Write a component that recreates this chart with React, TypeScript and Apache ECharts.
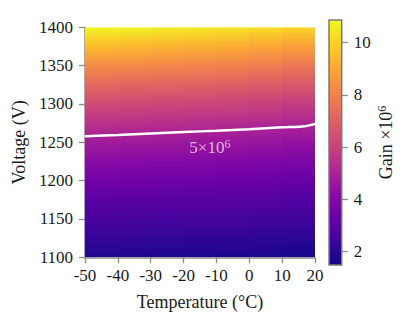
import React, { useEffect, useRef } from "react";
import * as echarts from "echarts";

// Temperature grid (°C) and voltage grid (V) of the gain map
const TEMPS = [-50, -40, -30, -20, -10, 0, 10, 20];
const VOLTS = [1100, 1125, 1150, 1175, 1200, 1225, 1250, 1275, 1300, 1325, 1350, 1375, 1400];
// Gain (×10^6), one row per voltage, one column per temperature
const GAIN_1100 = [1.84, 1.82, 1.8, 1.78, 1.76, 1.73, 1.69, 1.65];
const GAIN_1125 = [2.22, 2.2, 2.17, 2.15, 2.13, 2.1, 2.06, 2.01];
const GAIN_1150 = [2.62, 2.61, 2.58, 2.55, 2.53, 2.5, 2.45, 2.41];
const GAIN_1175 = [3.06, 3.04, 3.01, 2.97, 2.96, 2.92, 2.87, 2.81];
const GAIN_1200 = [3.56, 3.54, 3.5, 3.46, 3.44, 3.39, 3.33, 3.27];
const GAIN_1225 = [4.13, 4.11, 4.06, 4.01, 3.99, 3.93, 3.87, 3.79];
const GAIN_1250 = [4.78, 4.75, 4.7, 4.65, 4.62, 4.55, 4.48, 4.39];
const GAIN_1275 = [5.51, 5.48, 5.42, 5.35, 5.32, 5.25, 5.16, 5.06];
const GAIN_1300 = [6.33, 6.29, 6.22, 6.15, 6.12, 6.03, 5.93, 5.81];
const GAIN_1325 = [7.26, 7.22, 7.14, 7.06, 7.02, 6.92, 6.8, 6.67];
const GAIN_1350 = [8.31, 8.26, 8.17, 8.08, 8.03, 7.92, 7.78, 7.63];
const GAIN_1375 = [9.49, 9.44, 9.33, 9.22, 9.17, 9.04, 8.89, 8.71];
const GAIN_1400 = [10.85, 10.79, 10.67, 10.55, 10.49, 10.34, 10.16, 9.96];
const GAIN = [
  GAIN_1100, GAIN_1125, GAIN_1150, GAIN_1175, GAIN_1200, GAIN_1225, GAIN_1250,
  GAIN_1275, GAIN_1300, GAIN_1325, GAIN_1350, GAIN_1375, GAIN_1400,
];
// 5×10^6 contour
const CONTOUR_T = [-50, -40, -30, -20, -10, 0, 10, 17, 20];
const CONTOUR_V = [1258, 1259.5, 1261.5, 1263.5, 1265, 1267, 1269.5, 1271, 1274];
const CONTOUR_LABEL_T = -12;
const CONTOUR_LABEL_V = 1243;
// Colour bar
const COLOR_RANGE = [1.49, 10.87];
const COLORBAR_TICKS = [2, 4, 6, 8, 10];
const X_RANGE = [-50, 20];
const Y_RANGE = [1100, 1400];

const PLASMA = [
  "#0d0887", "#41049d", "#6a00a8", "#8f0da4", "#b12a90", "#cc4778",
  "#e16462", "#f2844b", "#fca636", "#fcce25", "#f0f921",
];
const hex = (h: string) => [1, 3, 5].map((k) => parseInt(h.slice(k, k + 2), 16));
const PLASMA_RGB = PLASMA.map(hex);
function plasma(t: number): string {
  const c = Math.max(0, Math.min(1, t)) * (PLASMA_RGB.length - 1);
  const i = Math.min(PLASMA_RGB.length - 2, Math.floor(c));
  const f = c - i;
  const a = PLASMA_RGB[i], b = PLASMA_RGB[i + 1];
  const m = a.map((v, k) => Math.round(v + (b[k] - v) * f));
  return `rgb(${m[0]},${m[1]},${m[2]})`;
}
const norm = (g: number) => (g - COLOR_RANGE[0]) / (COLOR_RANGE[1] - COLOR_RANGE[0]);

const AXIS_GRAY = "#8c8c8c";
const TEXT = "#1a1a1a";
const FONT = "Liberation Serif";
const LABEL_COLOR = "rgba(255,238,252,0.9)";

export default function App() {
  const ref = useRef<HTMLDivElement>(null);
  useEffect(() => {
    if (!ref.current) return;
    const chart = echarts.init(ref.current, undefined, { renderer: "svg" });
    const columns = TEMPS.slice(0, -1).map((t, i) => [t, TEMPS[i + 1], i]);
    const contour = CONTOUR_T.map((t, i) => [t, CONTOUR_V[i]]);
    const vSpan = Y_RANGE[1] - Y_RANGE[0];

    chart.setOption({
      animation: false,
      textStyle: { fontFamily: FONT, color: TEXT },
      grid: [
        { left: 85, top: 27.3, width: 230, height: 230 },
        { left: 329, top: 20, width: 12.7, height: 245 },
      ],
      xAxis: [
        {
          gridIndex: 0,
          type: "value",
          min: X_RANGE[0],
          max: X_RANGE[1],
          interval: 10,
          name: "Temperature (°C)",
          nameLocation: "middle",
          nameGap: 36,
          nameTextStyle: { fontSize: 18, color: TEXT, fontFamily: FONT },
          axisLine: { show: true, onZero: false, lineStyle: { color: AXIS_GRAY, width: 1.5 } },
          axisTick: { show: true, inside: false, length: 6, lineStyle: { color: AXIS_GRAY, width: 1.3 } },
          axisLabel: { fontSize: 17, color: TEXT, margin: 10, fontFamily: FONT, formatter: (v: number) => String(v) },
          splitLine: { show: false },
        },
        {
          gridIndex: 1,
          type: "value",
          min: 0,
          max: 1,
          show: false,
          axisLine: { onZero: false },
        },
      ],
      yAxis: [
        {
          gridIndex: 0,
          type: "value",
          min: Y_RANGE[0],
          max: Y_RANGE[1],
          interval: 50,
          name: "Voltage (V)",
          nameLocation: "middle",
          nameGap: 53,
          nameTextStyle: { fontSize: 18, color: TEXT, fontFamily: FONT },
          axisLine: { show: true, onZero: false, lineStyle: { color: AXIS_GRAY, width: 1.5 } },
          axisTick: { show: true, inside: false, length: 6, lineStyle: { color: AXIS_GRAY, width: 1.3 } },
          axisLabel: { fontSize: 17, color: TEXT, margin: 12, fontFamily: FONT, formatter: (v: number) => String(v) },
          splitLine: { show: false },
        },
        {
          gridIndex: 1,
          type: "value",
          position: "right",
          min: COLOR_RANGE[0],
          max: COLOR_RANGE[1],
          name: "Gain ×10{sup|6}",
          nameLocation: "middle",
          nameGap: 34,
          nameTextStyle: {
            fontSize: 18,
            color: TEXT,
            fontFamily: FONT,
            rich: { sup: { fontSize: 12, fontFamily: FONT, color: TEXT, padding: [0, 0, 8, 0] } },
          },
          axisLine: { show: false, onZero: false },
          axisTick: {
            show: true,
            inside: false,
            length: 6,
            customValues: COLORBAR_TICKS,
            lineStyle: { color: AXIS_GRAY, width: 1.3 },
          },
          axisLabel: {
            fontSize: 17,
            color: TEXT,
            margin: 12,
            fontFamily: FONT,
            customValues: COLORBAR_TICKS,
          },
          splitLine: { show: false },
        },
      ],
      series: [
        {
          type: "custom",
          coordinateSystem: "cartesian2d",
          xAxisIndex: 0,
          yAxisIndex: 0,
          z: 1,
          clip: true,
          silent: true,
          data: columns,
          renderItem: (params: any, api: any) => {
            const tL = api.value(0);
            const tR = api.value(1);
            const ci = api.value(2);
            const p0 = api.coord([tL, Y_RANGE[1]]);
            const p1 = api.coord([tR, Y_RANGE[0]]);
            const last = ci === TEMPS.length - 2;
            const stops = VOLTS.map((v, r) => ({
              offset: (Y_RANGE[1] - v) / vSpan,
              color: plasma(norm((GAIN[r][ci] + GAIN[r][ci + 1]) / 2)),
            })).reverse();
            return {
              type: "rect",
              shape: { x: p0[0], y: p0[1], width: p1[0] - p0[0] + (last ? 0 : 1), height: p1[1] - p0[1] },
              style: { fill: new echarts.graphic.LinearGradient(0, 0, 0, 1, stops) },
            };
          },
        },
        {
          type: "line",
          xAxisIndex: 0,
          yAxisIndex: 0,
          z: 3,
          silent: true,
          data: contour,
          smooth: 0.3,
          symbol: "none",
          lineStyle: { color: "#ffffff", width: 2.5 },
        },
        {
          type: "scatter",
          xAxisIndex: 0,
          yAxisIndex: 0,
          z: 4,
          silent: true,
          symbolSize: 0,
          data: [[CONTOUR_LABEL_T, CONTOUR_LABEL_V]],
          label: {
            show: true,
            position: "inside",
            formatter: "5×10{sup|6}",
            fontSize: 17,
            fontFamily: FONT,
            color: LABEL_COLOR,
            rich: { sup: { fontSize: 12, fontFamily: FONT, color: LABEL_COLOR, padding: [0, 0, 8, 0] } },
          },
        },
        {
          type: "custom",
          coordinateSystem: "cartesian2d",
          xAxisIndex: 1,
          yAxisIndex: 1,
          z: 2,
          clip: false,
          silent: true,
          encode: { x: 0, y: 1 },
          data: [[0.5, 6]],
          renderItem: (params: any, api: any) => {
            const p0 = api.coord([0, COLOR_RANGE[1]]);
            const p1 = api.coord([1, COLOR_RANGE[0]]);
            const stops = PLASMA.map((c, i) => ({ offset: 1 - i / (PLASMA.length - 1), color: c })).reverse();
            return {
              type: "rect",
              shape: { x: p0[0], y: p0[1], width: p1[0] - p0[0], height: p1[1] - p0[1] },
              style: {
                fill: new echarts.graphic.LinearGradient(0, 0, 0, 1, stops),
                stroke: "#7a7a7a",
                lineWidth: 1.5,
              },
            };
          },
        },
      ],
    });
    return () => chart.dispose();
  }, []);
  return (
    <div
      ref={ref}
      style={{ position: "fixed", left: 0, top: 0, width: 408, height: 323, background: "#fff" }}
    />
  );
}
